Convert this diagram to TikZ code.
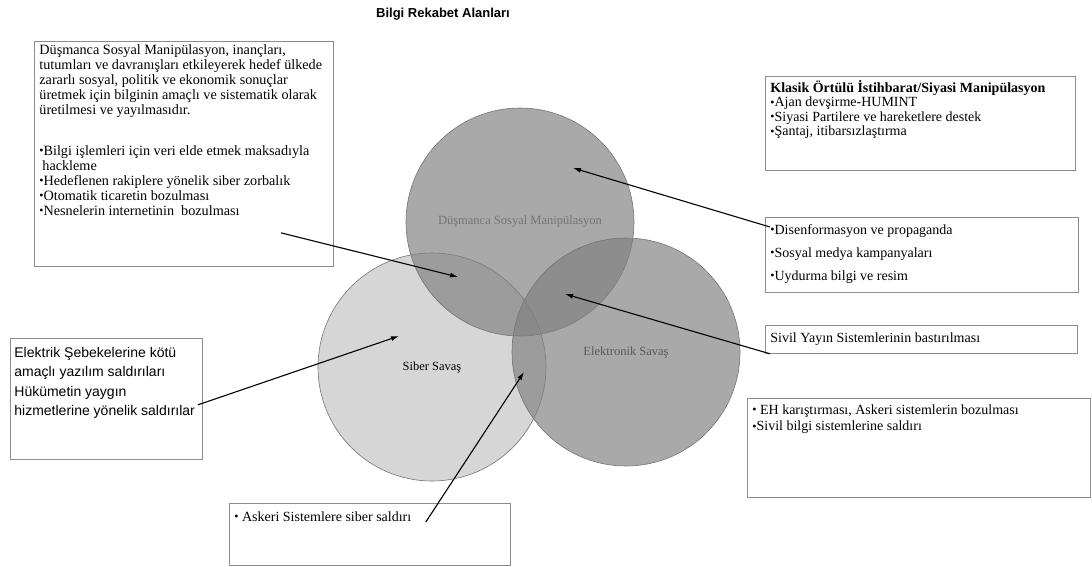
\documentclass[tikz,border=0pt]{standalone}
\usepackage{fontspec}
\setmainfont{Liberation Serif}
\newfontfamily\arialfont{Liberation Sans}
\usepackage{tikz}
\usetikzlibrary{arrows.meta,positioning}
\definecolor{zonegray}{gray}{0.5}
\newcommand{\bul}{{\fontsize{12}{12}\selectfont\raisebox{0.15ex}{•}}}
\newcommand{\topgap}[1]{\rule{0pt}{#1pt}}

\begin{document}
\begin{tikzpicture}[x=1pt, y=-1pt,
  infobox/.style={draw=black!45, line width=0.8pt, fill=white, anchor=north west, inner xsep=5pt, inner ysep=3pt, font=\fontsize{14}{15}\selectfont},
  zone/.style={circle, draw=black!55, line width=0.6pt, fill=zonegray, minimum size=228pt, text opacity=1, font=\fontsize{12.5}{14}\selectfont},
  line/.style={draw, -{Latex[length=8pt, width=5pt]}, line width=1.1pt}]
  \useasboundingbox (0,0) rectangle (1092,567);
  \node[font=\arialfont\bfseries\fontsize{13}{15}\selectfont] (title) at (443,14) {Bilgi Rekabet Alanları};
  % the three domains
  \node[zone, fill opacity=0.32] (cyber) at (432,367) {Siber Savaş};
  \node[zone, fill opacity=0.68, text=black!55] (social) at (520,222) {Düşmanca Sosyal Manipülasyon};
  \node[zone, fill opacity=0.68, text=black!65] (ew) at (626,352) {Elektronik Savaş};
  % text boxes
  \node[infobox, font=\fontsize{14.2}{15}\selectfont] (manip) at (34,41) {\parbox[t][219pt][t]{289pt}{\raggedright\topgap{10}Düşmanca Sosyal Manipülasyon, inançları,\\
    tutumları ve davranışları etkileyerek hedef ülkede\\
    zararlı sosyal, politik ve ekonomik sonuçlar\\
    üretmek için bilginin amaçlı ve sistematik olarak\\
    üretilmesi ve yayılmasıdır.\\[26pt]
    \bul Bilgi işlemleri için veri elde etmek maksadıyla\\
    \hspace{3pt}hackleme\\
    \bul Hedeflenen rakiplere yönelik siber zorbalık\\
    \bul Otomatik ticaretin bozulması\\
    \bul Nesnelerin internetinin\ \ bozulması}};
  \node[infobox, font=\fontsize{14}{14.5}\selectfont] (klasik) at (765,76) {\parbox[t][88pt][t]{300pt}{\raggedright\topgap{13}\textbf{Klasik Örtülü İstihbarat/Siyasi Manipülasyon}\\
    \bul Ajan devşirme-HUMINT\\
    \bul Siyasi Partilere ve hareketlere destek\\
    \bul Şantaj, itibarsızlaştırma}};
  \node[infobox, font=\fontsize{14}{23}\selectfont] (dis) at (765,217) {\parbox[t][69pt][t]{303pt}{\raggedright\topgap{14}\bul Disenformasyon ve propaganda\\
    \bul Sosyal medya kampanyaları\\
    \bul Uydurma bilgi ve resim}};
  \node[infobox] (sivil) at (765,325) {\parbox[t][22pt][t]{302pt}{\raggedright\topgap{14}Sivil Yayın Sistemlerinin bastırılması}};
  \node[infobox, font=\fontsize{14}{16.5}\selectfont] (eh) at (747,398) {\parbox[t][93pt][t]{333pt}{\raggedright\topgap{13}\bul\ EH karıştırması, Askeri sistemlerin bozulması\\
    \bul Sivil bilgi sistemlerine saldırı}};
  \node[infobox, inner xsep=4pt, font=\arialfont\fontsize{14}{19.5}\selectfont] (grid) at (10,338) {\parbox[t][115pt][t]{184pt}{\raggedright\topgap{16}Elektrik Şebekelerine kötü\\
    amaçlı yazılım saldırıları\\
    Hükümetin yaygın\\
    hizmetlerine yönelik saldırılar}};
  \node[infobox] (askeri) at (229,503) {\parbox[t][56pt][t]{271pt}{\raggedright\topgap{15}\bul\ Askeri Sistemlere siber saldırı}};
  % arrow targets
  \coordinate (socialcyber) at (458,277);
  \coordinate (socialtop) at (573,168);
  \coordinate (socialew) at (565,294);
  \coordinate (cyberin) at (399,336);
  \coordinate (cyberew) at (524,372);
  \path [line] ([xshift=-53pt,yshift=34pt]manip.south east) -- (socialcyber);
  \path [line] ([xshift=5pt,yshift=-10pt]dis.north west) -- (socialtop);
  \path [line] ([xshift=5pt]sivil.south west) -- (socialew);
  \path [line] ([xshift=-5pt,yshift=-6pt]grid.east) -- (cyberin);
  \path [line] ([xshift=-85pt,yshift=-19pt]askeri.north east) -- (cyberew);
\end{tikzpicture}
\end{document}
